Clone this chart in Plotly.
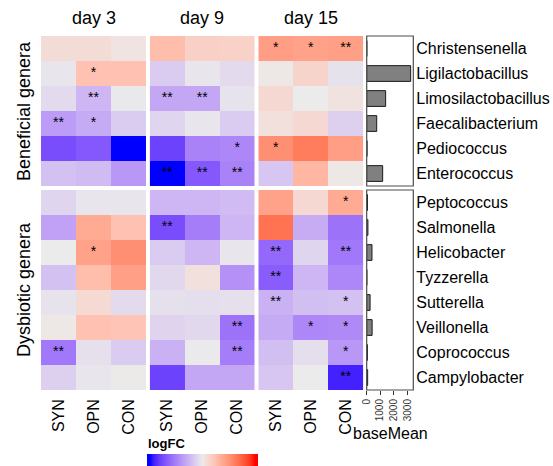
import numpy as np
import plotly.graph_objects as go

# ---------------- data ----------------
days = ["day 3", "day 9", "day 15"]
treatments = ["SYN", "OPN", "CON"]
beneficial = ["Christensenella", "Ligilactobacillus", "Limosilactobacillus",
              "Faecalibacterium", "Pediococcus", "Enterococcus"]
dysbiotic = ["Peptococcus", "Salmonella", "Helicobacter", "Tyzzerella",
             "Sutterella", "Veillonella", "Coprococcus", "Campylobacter"]

# logFC per day (rows = genera, columns = SYN, OPN, CON)
lfc_ben_d3 = [[0.18, 0.18, 0.08], [-0.05, 0.5, 0.5], [-0.15, -0.5, -0.03],
              [-0.75, -0.62, -0.3], [-1.5, -1.4, -2.1], [-0.4, -0.45, -0.8]]
lfc_ben_d9 = [[0.55, 0.32, 0.3], [-0.3, -0.05, -0.15], [-0.65, -0.65, -0.07],
              [-0.2, -0.05, -0.3], [-1.6, -1.0, -0.95], [-2.1, -1.4, -1.0]]
lfc_ben_d15 = [[0.9, 0.85, 0.88], [0.04, 0.27, -0.08], [0.22, 0.0, 0.1],
               [0.13, 0.22, -0.25], [1.05, 1.25, 0.9], [-0.35, 0.62, 0.04]]
lfc_dys_d3 = [[-0.2, -0.05, -0.05], [-0.7, 0.75, 0.5], [0.0, 0.85, 1.05],
              [-0.4, 0.55, 0.88], [-0.07, 0.2, -0.15], [0.04, 0.5, 0.45],
              [-1.1, -0.1, -0.3], [-0.25, -0.05, 0.02]]
lfc_dys_d9 = [[-0.5, -0.5, -0.45], [-1.5, -1.05, -0.5], [-0.3, -0.5, -0.05],
              [-0.18, 0.13, -0.85], [-0.1, -0.12, -0.1], [-0.22, -0.18, -1.15],
              [-0.55, -0.02, -1.05], [-1.6, -0.65, -0.65]]
lfc_dys_d15 = [[0.85, 0.22, 0.75], [1.35, -0.6, -1.15], [-1.25, -0.2, -1.1],
               [-1.35, -0.5, -0.95], [-0.55, -0.42, -0.4], [-0.62, -0.95, -0.92],
               [-0.42, -0.12, -0.8], [-0.35, 0.0, -1.85]]

# significance marks
sig_ben_d3 = [["", "", ""], ["", "*", ""], ["", "**", ""], ["**", "*", ""], ["", "", ""], ["", "", ""]]
sig_ben_d9 = [["", "", ""], ["", "", ""], ["**", "**", ""], ["", "", ""], ["", "", "*"], ["**", "**", "**"]]
sig_ben_d15 = [["*", "*", "**"], ["", "", ""], ["", "", ""], ["", "", ""], ["*", "", ""], ["", "", ""]]
sig_dys_d3 = [["", "", ""], ["", "", ""], ["", "*", ""], ["", "", ""], ["", "", ""], ["", "", ""],
              ["**", "", ""], ["", "", ""]]
sig_dys_d9 = [["", "", ""], ["**", "", ""], ["", "", ""], ["", "", ""], ["", "", ""], ["", "", "**"],
              ["", "", "**"], ["", "", ""]]
sig_dys_d15 = [["", "", "*"], ["", "", ""], ["**", "", "**"], ["**", "", ""], ["**", "", "*"],
               ["", "*", "*"], ["", "", "*"], ["", "", "**"]]

basemean_ben = [10, 3250, 1400, 740, 25, 1180]
basemean_dys = [60, 90, 390, 10, 250, 400, 50, 70]

basemean_ticks = [0, 1000, 2000, 3000]
logfc_ticks = [-2, -1, 0, 1, 2]

# ---------------- colour ramp (LAB interpolation blue - grey - red) ----------------
def srgb_to_lab(c):
    c = np.array(c, float) / 255.0
    lin = np.where(c <= 0.04045, c / 12.92, ((c + 0.055) / 1.055) ** 2.4)
    M = np.array([[0.4124, 0.3576, 0.1805], [0.2126, 0.7152, 0.0722], [0.0193, 0.1192, 0.9505]])
    xyz = M @ lin / np.array([0.95047, 1.0, 1.08883])
    f = np.where(xyz > 0.008856, np.cbrt(xyz), 7.787 * xyz + 16 / 116)
    return np.array([116 * f[1] - 16, 500 * (f[0] - f[1]), 200 * (f[1] - f[2])])

def lab_to_srgb(lab):
    L, a, b = lab
    fy_ = (L + 16) / 116
    fx_ = fy_ + a / 500
    fz_ = fy_ - b / 200
    f = np.array([fx_, fy_, fz_])
    xyz = np.where(f ** 3 > 0.008856, f ** 3, (f - 16 / 116) / 7.787) * np.array([0.95047, 1.0, 1.08883])
    Minv = np.array([[3.2406, -1.5372, -0.4986], [-0.9689, 1.8758, 0.0415], [0.0557, -0.2040, 1.0570]])
    lin = np.clip(Minv @ xyz, 0, 1)
    c = np.where(lin <= 0.0031308, 12.92 * lin, 1.055 * lin ** (1 / 2.4) - 0.055)
    c = np.clip(np.round(c * 255), 0, 255).astype(int)
    return "rgb(%d,%d,%d)" % tuple(c)

LAB_BLUE = srgb_to_lab((0, 0, 255))
LAB_MID = srgb_to_lab((235, 235, 235))
LAB_RED = srgb_to_lab((255, 0, 0))

def ramp(v):
    v = max(-2.0, min(2.0, v))
    if v < 0:
        t = (v + 2) / 2
        return lab_to_srgb(LAB_BLUE + (LAB_MID - LAB_BLUE) * t)
    t = v / 2
    return lab_to_srgb(LAB_MID + (LAB_RED - LAB_MID) * t)

ZMIN, ZMAX = -2.13, 2.13
colorscale = []
for f in np.linspace(0, 1, 61):
    colorscale.append([float(f), ramp(ZMIN + (ZMAX - ZMIN) * f)])

# ---------------- layout helpers ----------------
W, H = 553, 466
def fx(px):
    return px / W
def fy(px):
    return 1 - px / H

FONT = "Liberation Sans, Arial, sans-serif"
panel_x = [(41, 146), (149.7, 254.7), (258.3, 363.3)]
bar_x = (366.7, 413.3)
ben_y = (36, 186)
dys_y = (190, 390)

fig = go.Figure()

ben_data = [lfc_ben_d3, lfc_ben_d9, lfc_ben_d15]
dys_data = [lfc_dys_d3, lfc_dys_d9, lfc_dys_d15]
ben_sig = [sig_ben_d3, sig_ben_d9, sig_ben_d15]
dys_sig = [sig_dys_d3, sig_dys_d9, sig_dys_d15]

for i in range(3):
    xa = "x" if i == 0 else "x%d" % (i + 1)
    for rows, z, sig, ya in [(beneficial, ben_data[i], ben_sig[i], "y"),
                             (dysbiotic, dys_data[i], dys_sig[i], "y2")]:
        fig.add_trace(go.Heatmap(z=z, x=treatments, y=rows, coloraxis="coloraxis",
                                 xaxis=xa, yaxis=ya, hoverinfo="skip"))
        sx, sy, st = [], [], []
        for r, g in enumerate(rows):
            for c, t in enumerate(treatments):
                if sig[r][c]:
                    sx.append(t); sy.append(g); st.append(sig[r][c])
        fig.add_trace(go.Scatter(x=sx, y=sy, text=st, mode="text", xaxis=xa, yaxis=ya,
                                 textfont=dict(size=14, color="black", family=FONT),
                                 textposition="middle center", hoverinfo="skip",
                                 showlegend=False))

bar_style = dict(orientation="h", marker=dict(color="#808080", line=dict(color="#1a1a1a", width=1)),
                 width=0.63, hoverinfo="skip", showlegend=False)
fig.add_trace(go.Bar(x=basemean_ben, y=beneficial, xaxis="x4", yaxis="y", **bar_style))
fig.add_trace(go.Bar(x=basemean_dys, y=dysbiotic, xaxis="x5", yaxis="y2", **bar_style))

hm_xaxis = dict(showgrid=False, zeroline=False, ticks="", tickangle=-90,
                tickfont=dict(size=16, color="black", family=FONT),
                categoryorder="array", categoryarray=treatments, anchor="y2",
                ticklabelstandoff=5, automargin=False)
layout = dict(
    width=W, height=H, margin=dict(l=0, r=0, t=0, b=0, autoexpand=False),
    paper_bgcolor="white", plot_bgcolor="white", showlegend=False,
    font=dict(family=FONT, color="black"),
    coloraxis=dict(cmin=ZMIN, cmax=ZMAX, colorscale=colorscale,
                   colorbar=dict(orientation="h", x=fx((147.3 + 258.3) / 2), xanchor="center",
                                 y=fy(454), yanchor="top", lenmode="pixels", len=111,
                                 thickness=20, xpad=0, ypad=0, outlinewidth=0,
                                 tickvals=logfc_ticks, ticks="inside", ticklen=3,
                                 ticklabelposition="outside top",
                                 tickcolor="white", showticklabels=False)),
)
for i, (a, b) in enumerate(panel_x):
    key = "xaxis" if i == 0 else "xaxis%d" % (i + 1)
    layout[key] = dict(domain=[fx(a), fx(b)], **hm_xaxis)

layout["xaxis4"] = dict(domain=[fx(bar_x[0]), fx(bar_x[1])], anchor="y", range=[0, 3445],
                        showgrid=False, zeroline=False, showticklabels=False, ticks="",
                        automargin=False)
layout["xaxis5"] = dict(domain=[fx(bar_x[0]), fx(bar_x[1])], anchor="y2", range=[0, 3445],
                        showgrid=False, zeroline=False, tickvals=basemean_ticks,
                        ticks="outside", ticklen=4, tickwidth=1, tickcolor="#333333",
                        tickangle=-90, tickfont=dict(size=10, color="#333333", family=FONT),
                        automargin=False)
ycommon = dict(showgrid=False, zeroline=False, ticks="", side="right", autorange="reversed",
               tickfont=dict(size=16, color="black", family=FONT), ticklabelstandoff=2,
               automargin=False)
layout["yaxis"] = dict(domain=[fy(ben_y[1]), fy(ben_y[0])], anchor="x4",
                       categoryorder="array", categoryarray=beneficial, **ycommon)
layout["yaxis2"] = dict(domain=[fy(dys_y[1]), fy(dys_y[0])], anchor="x5",
                        categoryorder="array", categoryarray=dysbiotic, **ycommon)

fig.update_layout(**layout)

# boxes around bar panels
for xr, yr in [("x4 domain", "y domain"), ("x5 domain", "y2 domain")]:
    fig.add_shape(type="rect", xref=xr, yref=yr, x0=0, x1=1, y0=0, y1=1,
                  line=dict(color="#4d4d4d", width=1.2), fillcolor="rgba(0,0,0,0)")

# titles
for i, d in enumerate(days):
    xr = "x domain" if i == 0 else "x%d domain" % (i + 1)
    fig.add_annotation(text=d, xref=xr, x=0.5, yref="paper", y=fy(18), yanchor="middle",
                       showarrow=False, font=dict(size=18, color="black", family=FONT))
fig.add_annotation(text="Beneficial genera", xref="paper", x=fx(24), xanchor="center",
                   yref="y domain", y=0.5, yanchor="middle", textangle=-90, showarrow=False,
                   font=dict(size=18, color="black", family=FONT))
fig.add_annotation(text="Dysbiotic genera", xref="paper", x=fx(24), xanchor="center",
                   yref="y2 domain", y=0.5, yanchor="middle", textangle=-90, showarrow=False,
                   font=dict(size=18, color="black", family=FONT))
fig.add_annotation(text="baseMean", xref="x5 domain", x=0.5, yref="paper", y=fy(433),
                   yanchor="middle", showarrow=False,
                   font=dict(size=16, color="black", family=FONT))
fig.add_annotation(text="<b>logFC</b>", xref="paper", x=fx(146), xanchor="left",
                   yref="paper", y=fy(443), yanchor="middle", showarrow=False,
                   font=dict(size=13, color="black", family=FONT))

fig.write_html("out.html")
